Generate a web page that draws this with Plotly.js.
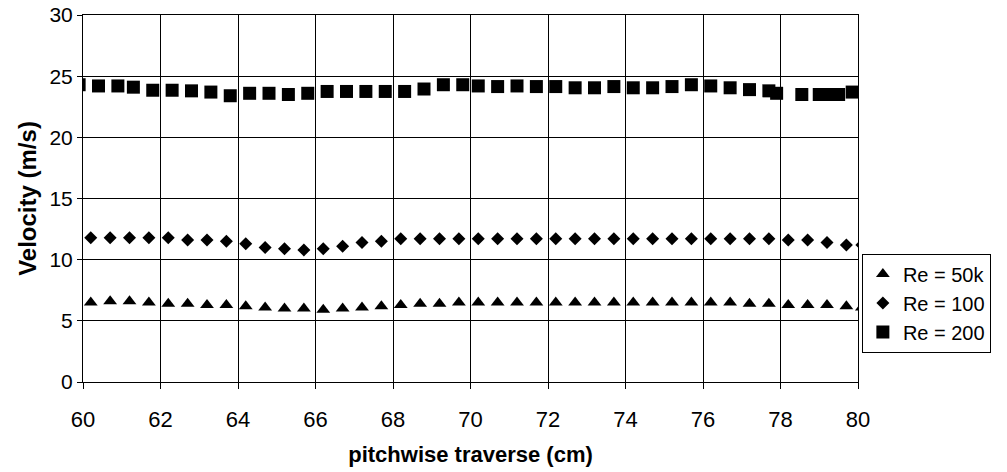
<!DOCTYPE html>
<html>
<head>
<meta charset="utf-8">
<script src="https://cdn.plot.ly/plotly-3.0.1.min.js"></script>
<style>html,body{margin:0;padding:0;background:#fff;}#chart{width:1007px;height:472px;}</style>
</head>
<body>
<div id="chart"></div>
<script>
// positions for Re = 50k and Re = 100 (cm)
const xDiamond = [60.2,60.7,61.2,61.7,62.2,62.7,63.2,63.7,64.2,64.7,65.2,65.7,66.2,66.7,67.2,67.7,68.2,68.7,69.2,69.7,70.2,70.7,71.2,71.7,72.2,72.7,73.2,73.7,74.2,74.7,75.2,75.7,76.2,76.7,77.2,77.7,78.2,78.7,79.2,79.7,80.1];
// positions for Re = 200 (cm)
const xSquare = [59.9,60.4,60.9,61.3,61.8,62.3,62.8,63.3,63.8,64.3,64.8,65.3,65.8,66.3,66.8,67.3,67.8,68.3,68.8,69.3,69.8,70.2,70.7,71.2,71.7,72.2,72.7,73.2,73.7,74.2,74.7,75.2,75.7,76.2,76.7,77.2,77.7,77.9,78.55,79.0,79.3,79.5,79.85];
const re50k = [6.5,6.6,6.6,6.5,6.4,6.4,6.3,6.3,6.2,6.1,6.0,6.0,5.9,6.0,6.1,6.2,6.3,6.4,6.4,6.5,6.5,6.5,6.5,6.5,6.5,6.5,6.5,6.5,6.5,6.5,6.5,6.5,6.5,6.5,6.4,6.4,6.3,6.3,6.3,6.2,6.1];
const re100 = [11.8,11.8,11.8,11.8,11.8,11.6,11.6,11.5,11.3,11.0,10.9,10.8,10.9,11.1,11.4,11.5,11.7,11.7,11.7,11.7,11.7,11.7,11.7,11.7,11.7,11.7,11.7,11.7,11.7,11.7,11.7,11.7,11.7,11.7,11.7,11.7,11.6,11.6,11.4,11.2,11.2];
const re200 = [24.3,24.2,24.2,24.1,23.85,23.85,23.8,23.7,23.4,23.6,23.6,23.5,23.6,23.75,23.75,23.75,23.75,23.75,23.95,24.3,24.3,24.2,24.15,24.2,24.15,24.15,24.05,24.05,24.15,24.05,24.05,24.15,24.3,24.2,24.05,23.9,23.8,23.6,23.5,23.5,23.5,23.5,23.7];
const names = ["Re = 50k","Re = 100","Re = 200"];
const xTicks = [60,62,64,66,68,70,72,74,76,78,80];
const yTicks = [0,5,10,15,20,25,30];

const font = "Liberation Sans, Arial, sans-serif";
const traces = [
  {x:xDiamond, y:re50k, name:names[0], type:"scatter", mode:"markers",
   marker:{symbol:"triangle-up", size:12, color:"#000"}},
  {x:xDiamond, y:re100, name:names[1], type:"scatter", mode:"markers",
   marker:{symbol:"diamond", size:10, color:"#000"}},
  {x:xSquare, y:re200, name:names[2], type:"scatter", mode:"markers",
   marker:{symbol:"square", size:13, color:"#000"}}
];
const layout = {
  width:1007, height:472,
  margin:{l:83, r:149, t:15, b:90},
  paper_bgcolor:"#fff", plot_bgcolor:"#fff",
  font:{family:font, color:"#000", size:21},
  showlegend:true,
  legend:{x:1.005, y:0.35, xanchor:"left", yanchor:"top",
    bordercolor:"#000", borderwidth:1, bgcolor:"#fff",
    font:{family:font, size:20, color:"#000"}, tracegroupgap:0},
  xaxis:{range:[60,80], tickvals:xTicks, ticktext:xTicks.map(String),
    showgrid:true, gridcolor:"#000", gridwidth:1,
    showline:true, linecolor:"#000", linewidth:1, mirror:true,
    ticks:"outside", ticklen:6, tickcolor:"#000", ticklabelstandoff:12,
    zeroline:false, tickfont:{size:22},
    title:{text:"<b>pitchwise traverse (cm)</b>", font:{size:22}, standoff:15}},
  yaxis:{range:[0,30], tickvals:yTicks, ticktext:yTicks.map(String),
    showgrid:true, gridcolor:"#000", gridwidth:1,
    showline:true, linecolor:"#000", linewidth:1, mirror:true,
    ticks:"outside", ticklen:5, tickcolor:"#000",
    zeroline:false, tickfont:{size:21},
    title:{text:"<b>Velocity (m/s)</b>", font:{size:24}, standoff:6}}
};
Plotly.newPlot("chart", traces, layout, {displayModeBar:false, staticPlot:true});
</script>
</body>
</html>
